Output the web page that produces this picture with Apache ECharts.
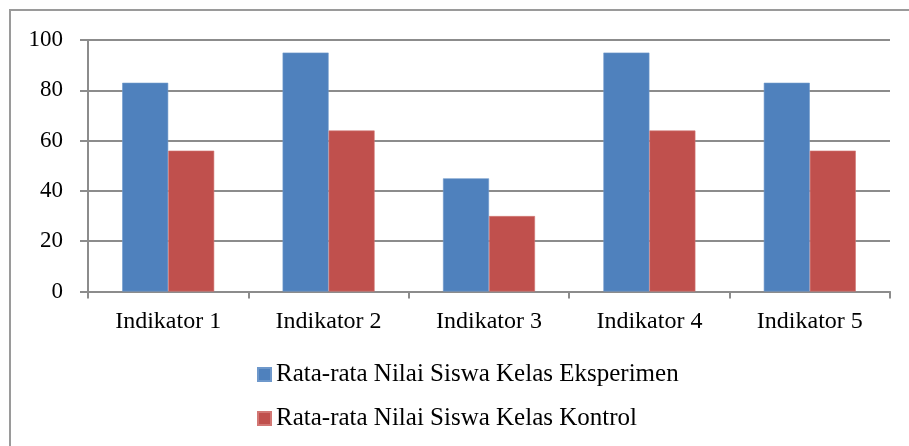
<!DOCTYPE html>
<html>
<head>
<meta charset="utf-8">
<script src="https://cdn.jsdelivr.net/npm/echarts@6/dist/echarts.min.js"></script>
<style>
html,body{margin:0;padding:0;background:#fff;}
#chart{width:909px;height:446px;}
</style>
</head>
<body>
<div id="chart"></div>
<script>
const categories = ['Indikator 1', 'Indikator 2', 'Indikator 3', 'Indikator 4', 'Indikator 5'];
const eksperimen = [83, 95, 45, 95, 83];
const kontrol = [56, 64, 30, 64, 56];
const seriesNames = ['Rata-rata Nilai Siswa Kelas Eksperimen', 'Rata-rata Nilai Siswa Kelas Kontrol'];
const yTicks = { min: 0, max: 100, interval: 20 };

const font = '"Liberation Serif", "Times New Roman", serif';
const gray = '#8c8c8c';

const chart = echarts.init(document.getElementById('chart'), null, { renderer: 'canvas' });
chart.setOption({
  animation: false,
  backgroundColor: '#fff',
  graphic: [{
    type: 'rect',
    shape: { x: 10, y: 10, width: 960, height: 500 },
    style: { fill: 'none', stroke: '#9a9a9a', lineWidth: 2 },
    silent: true
  }],
  grid: { left: 88, right: 19, top: 40, bottom: 154.5, containLabel: false },
  legend: {
    orient: 'vertical',
    left: 252,
    top: 357,
    itemWidth: 13,
    itemHeight: 13,
    itemGap: 19,
    icon: 'rect',
    textStyle: { fontFamily: font, fontSize: 25, color: '#000' },
    data: seriesNames
  },
  xAxis: {
    type: 'category',
    data: categories,
    axisLine: { lineStyle: { color: gray, width: 2 } },
    axisTick: { show: true, length: 7, lineStyle: { color: gray, width: 2 } },
    axisLabel: { fontFamily: font, fontSize: 24, color: '#000', margin: 18 }
  },
  yAxis: {
    type: 'value',
    min: yTicks.min,
    max: yTicks.max,
    interval: yTicks.interval,
    axisLine: { show: true, lineStyle: { color: gray, width: 2 } },
    axisTick: { show: true, length: 8, lineStyle: { color: gray, width: 2 } },
    splitLine: { show: true, lineStyle: { color: gray, width: 2 } },
    axisLabel: { fontFamily: font, fontSize: 23, color: '#000', margin: 25 }
  },
  series: [
    {
      name: seriesNames[0],
      type: 'bar',
      data: eksperimen,
      barWidth: 46,
      barGap: '0%',
      itemStyle: { color: '#4F81BD', borderColor: '#6e98cb', borderWidth: 0.6 }
    },
    {
      name: seriesNames[1],
      type: 'bar',
      data: kontrol,
      barWidth: 46,
      itemStyle: { color: '#C0504D', borderColor: '#d27774', borderWidth: 0.6 }
    }
  ]
});
</script>
</body>
</html>
